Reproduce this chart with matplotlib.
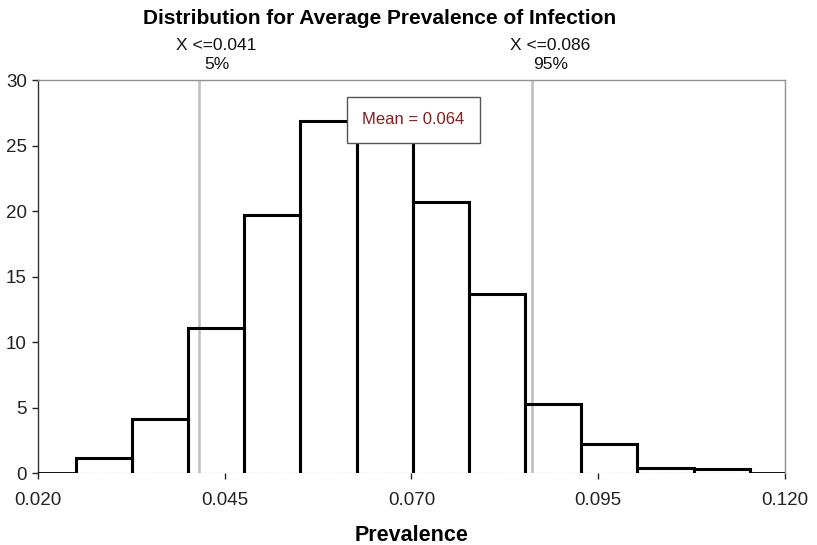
import matplotlib
matplotlib.use("Agg")
import matplotlib.pyplot as plt

plt.rcParams['font.family'] = ['Liberation Sans', 'DejaVu Sans']

# histogram bins (edges) and heights
bin_edges = [0.0251, 0.0326, 0.0401, 0.0476, 0.0551, 0.0627, 0.0702,
             0.0777, 0.0852, 0.0927, 0.1002, 0.1078, 0.1153]
heights = [1.17, 4.15, 11.07, 19.67, 26.86, 27.3, 20.69, 13.68, 5.25, 2.25, 0.4, 0.28]

# 5% / 95% markers
pct_values = [0.0415, 0.0862]
pct_labels = ['X <=0.041\n5%', 'X <=0.086\n95%']
mean_label = 'Mean = 0.064'

x_ticks = [0.020, 0.045, 0.070, 0.095, 0.120]
y_ticks = [0, 5, 10, 15, 20, 25, 30]
xlim = (0.020, 0.120)
ylim = (0, 30)

fig = plt.figure(figsize=(8.17, 5.45), dpi=100)
ax = fig.add_axes([0.0465, 0.1321, 0.9143, 0.7211])

# white bars, outlines drawn separately so the bottom stays dotted
for i in range(len(heights)):
    l, r, h = bin_edges[i], bin_edges[i + 1], heights[i]
    ax.fill_between([l, r], 0, h, color='white', zorder=1)

for v in pct_values:
    ax.axvline(v, color='#c0c0c0', lw=1.9, zorder=2)

ax.plot(xlim, [0, 0], ls=':', color='#b0b0b0', lw=1.0, zorder=2)
for i in range(len(heights)):
    l, r, h = bin_edges[i], bin_edges[i + 1], heights[i]
    ax.plot([l, l, r, r], [0, h, h, 0], color='black', lw=2.2,
            solid_joinstyle='miter', zorder=3)
ax.plot([xlim[0], bin_edges[0]], [0, 0], color='black', lw=1.3, zorder=3)
ax.plot([bin_edges[-1], xlim[1]], [0, 0], color='black', lw=1.3, zorder=3)

for v, lab in zip(pct_values, pct_labels):
    ax.text(v + 0.0024, 30.6, lab, ha='center', va='bottom', fontsize=12.5,
            linespacing=1.35, color='#111111')

ax.text(0.07027, 26.95, mean_label, ha='center', va='center', fontsize=12,
        color='#8b1a1a', zorder=5,
        bbox=dict(boxstyle='square,pad=0.95', fc='white', ec='#555555', lw=1.0))

ax.set_xlim(xlim)
ax.set_ylim(ylim)
ax.set_xticks(x_ticks)
ax.set_xticklabels(['%.3f' % t for t in x_ticks])
ax.set_yticks(y_ticks)
ax.tick_params(axis='both', labelsize=13.5, direction='out', length=4,
               width=1, colors='#222222')
ax.tick_params(axis='x', pad=10)
ax.tick_params(axis='y', pad=4)

ax.spines['bottom'].set_visible(False)
ax.spines['left'].set_color('#333333')
ax.spines['top'].set_color('#909090')
ax.spines['right'].set_color('#909090')
for s in ax.spines.values():
    s.set_linewidth(1.0)

ax.set_xlabel('Prevalence', fontsize=15.5, fontweight='bold', labelpad=11)
fig.text(380 / 817, 1 - 18 / 545, 'Distribution for Average Prevalence of Infection',
         ha='center', va='center', fontsize=15, fontweight='bold')

fig.savefig('out.png', dpi=100)
